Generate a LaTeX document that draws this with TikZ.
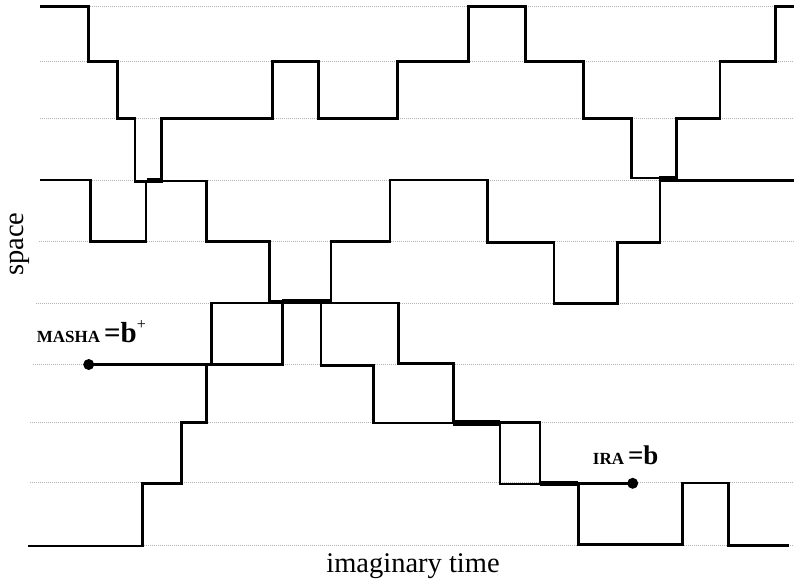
\documentclass[tikz,border=0pt]{standalone}
\usepackage{fontspec}
\setmainfont{Liberation Serif}
\begin{document}
\begin{tikzpicture}[x=1pt,y=-1pt,
  wl/.style={line width=2.8pt, line join=miter, line cap=butt},
  thk/.style={line width=5.5pt, line cap=butt},
  gridl/.style={gray!60, line width=0.8pt, dash pattern=on 1pt off 1pt},
  dotnode/.style={circle, fill=black, inner sep=0pt, minimum size=11pt},
  lbl/.style={font=\fontsize{17}{20}\selectfont\bfseries, anchor=base west, inner sep=0pt},
  axlbl/.style={font=\fontsize{28.5}{32}\selectfont, anchor=base, inner sep=0pt}]
\useasboundingbox (0,0) rectangle (794,583);
% grid
\foreach \yy/\xs in {6.7/40,61.7/40,118.3/40,180/40,241.7/39,303.3/36,364.3/33,422.7/30,482.7/30,545/28}
  \draw[gridl] (\xs,\yy) -- (794,\yy);
% worldline A (top)
\draw[wl] (40,6.7) -- (88.3,6.7) -- (88.3,61.7) -- (117.7,61.7) -- (117.7,118.3) -- (135,118.3)
  -- (135,181.7) -- (161.7,181.7) -- (161.7,118.3) -- (272.7,118.3) -- (272.7,61.7) -- (318.3,61.7)
  -- (318.3,118.3) -- (397.7,118.3) -- (397.7,61.7) -- (468.3,61.7) -- (468.3,6.7) -- (525.7,6.7)
  -- (525.7,61.7) -- (583.3,61.7) -- (583.3,118.3) -- (631.7,118.3) -- (631.7,178) -- (676.5,178)
  -- (676.5,118.3) -- (720,118.3) -- (720,61.7) -- (775.7,61.7) -- (775.7,6.7) -- (794,6.7);
% worldline B
\draw[wl] (40,180) -- (90.7,180) -- (90.7,241.7) -- (146,241.7) -- (146,181) -- (206.7,181)
  -- (206.7,241.7) -- (269.5,241.7) -- (269.5,301) -- (331,301) -- (331,241.7) -- (390,241.7)
  -- (390,180) -- (487.7,180) -- (487.7,242.7) -- (554,242.7) -- (554,303.3) -- (617.3,303.3)
  -- (617.3,242.7) -- (660,242.7) -- (660,180.5) -- (794,180.5);
% worldline D (bottom)
\draw[wl] (28.3,546) -- (142.7,546) -- (142.7,483.3) -- (181.7,483.3) -- (181.7,422.7)
  -- (206.7,422.7) -- (206.7,364.5) -- (282.3,364.5) -- (282.3,303) -- (321,303) -- (321,365.5)
  -- (373.3,365.5) -- (373.3,423) -- (500,423) -- (500,484) -- (578.3,484) -- (578.3,544.5)
  -- (682.7,544.5) -- (682.7,483) -- (728.3,483) -- (728.3,545.5) -- (789.3,545.5);
% worm
\node[dotnode] (masha) at (88.7,364.5) {};
\node[dotnode] (ira) at (632.7,483.3) {};
\draw[wl] (masha.center) -- (211.7,364.5) -- (211.7,303) -- (398.3,303) -- (398.3,363.3)
  -- (453.3,363.3) -- (453.3,422.5) -- (540,422.5) -- (540,483.3) -- (ira.center);
% overlaps
\draw[thk] (146.7,180.5) -- (161.7,180.5);
\draw[thk] (282.3,301.5) -- (331,301.5);
\draw[thk] (453.3,423) -- (500,423);
\draw[thk] (540,483.7) -- (578.3,483.7);
\draw[thk] (659.3,179) -- (676.5,179);
% labels
\node[lbl] (mashalbl) at (36.7,342.3) {MASHA\hspace{4pt}{\fontsize{29}{32}\selectfont =b}\raisebox{13pt}{\fontsize{16}{18}\selectfont\mdseries +}};
\node[lbl] (iralbl) at (592.7,464.3) {IRA\hspace{4pt}{\fontsize{27}{30}\selectfont =b}};
\node[axlbl] (xlbl) at (413,572) {imaginary time};
\node[axlbl, rotate=90] (ylbl) at (23,244) {space};
\end{tikzpicture}
\end{document}
